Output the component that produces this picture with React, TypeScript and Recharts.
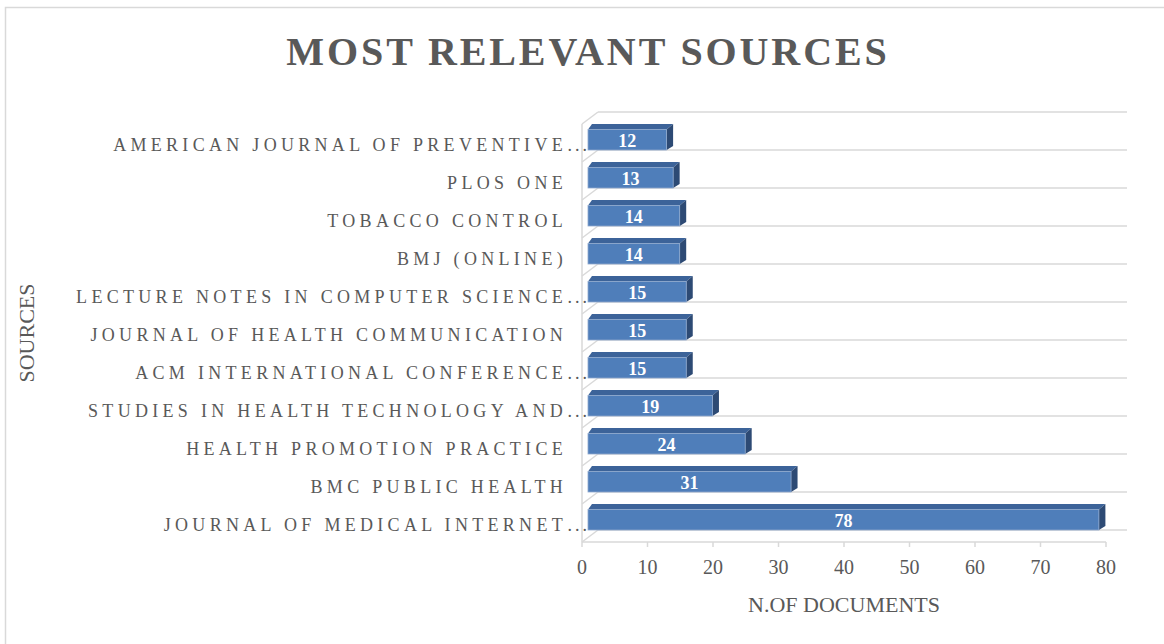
import React from 'react';
import { BarChart, Bar, XAxis, YAxis, LabelList } from 'recharts';

const categories = [
  'AMERICAN JOURNAL OF PREVENTIVE...',
  'PLOS ONE',
  'TOBACCO CONTROL',
  'BMJ (ONLINE)',
  'LECTURE NOTES IN COMPUTER SCIENCE...',
  'JOURNAL OF HEALTH COMMUNICATION',
  'ACM INTERNATIONAL CONFERENCE...',
  'STUDIES IN HEALTH TECHNOLOGY AND...',
  'HEALTH PROMOTION PRACTICE',
  'BMC PUBLIC HEALTH',
  'JOURNAL OF MEDICAL INTERNET...',
];
const documents = [12, 13, 14, 14, 15, 15, 15, 19, 24, 31, 78];
const xTicks = [0, 10, 20, 30, 40, 50, 60, 70, 80];
const title = 'MOST RELEVANT SOURCES';
const xTitle = 'N.OF DOCUMENTS';
const yTitle = 'SOURCES';

const data = categories.map((name, i) => ({ name, value: documents[i] }));

const FONT = '"Liberation Serif", "Times New Roman", serif';
const GRID = '#D9D9D9';
const TEXT = '#595959';
const FRONT = '#4F7EBA';
const TOPC = '#3C6399';
const SIDE = '#2D4A74';
const DEPTH_X = 16;
const DEPTH_Y = 12;

const Bar3D = (props: any) => {
  const { x, y, width } = props;
  const fl = x + 6;
  const fr = x + width + 6;
  const ft = y + 5.5;
  const fb = y + 26;
  return (
    <g>
      <polygon
        points={`${fl},${ft} ${fr},${ft} ${fr + 6.5},${ft - 5.5} ${fl + 4},${ft - 5.5}`}
        fill={TOPC}
      />
      <polygon
        points={`${fr},${ft} ${fr + 6.5},${ft - 5.5} ${fr + 6.5},${fb - 4} ${fr},${fb}`}
        fill={SIDE}
      />
      <rect x={fl} y={ft} width={fr - fl} height={fb - ft} fill={FRONT} stroke="#8EA8CE" strokeWidth={0.8} />
    </g>
  );
};

const Backdrop = (props: any) => {
  const { x, y, width, height, index } = props;
  const lines = [y];
  if (index === categories.length - 1) lines.push(y + height);
  return (
    <g>
      {lines.map((ly, i) => (
        <g key={i}>
          <line x1={x + DEPTH_X} y1={ly - DEPTH_Y} x2={x + width + 21} y2={ly - DEPTH_Y} stroke={GRID} strokeWidth={1.5} />
          <line x1={x} y1={ly} x2={x + DEPTH_X} y2={ly - DEPTH_Y} stroke={GRID} strokeWidth={1.5} />
        </g>
      ))}
    </g>
  );
};

const BarValueLabel = (props: any) => {
  const vb = props.viewBox && props.viewBox.width !== undefined ? props.viewBox : props;
  const { x, y, width } = vb;
  return (
    <text
      x={x + width / 2 + 6}
      y={y + 23}
      textAnchor="middle"
      fill="#FFFFFF"
      fontFamily={FONT}
      fontWeight="bold"
      fontSize={18}
    >
      {props.value}
    </text>
  );
};

const YTick = (props: any) => {
  const { y, payload } = props;
  const label: string = payload.value;
  const hasDots = label.endsWith('...');
  const main = hasDots ? label.slice(0, -3) : label;
  return (
    <g>
      <text x={567} y={y + 8} textAnchor="end" fill={TEXT} fontFamily={FONT} fontSize={18} letterSpacing={4.3}>
        {main}
      </text>
      {hasDots && (
        <text x={567.5} y={y + 8} textAnchor="start" fill={TEXT} fontFamily={FONT} fontSize={18} letterSpacing={3}>
          ...
        </text>
      )}
    </g>
  );
};

const XTick = (props: any) => {
  const { x, payload } = props;
  return (
    <text x={x} y={574} textAnchor="middle" fill={TEXT} fontFamily={FONT} fontSize={20}>
      {payload.value}
    </text>
  );
};

export default function App() {
  return (
    <div style={{ position: 'absolute', left: 0, top: 0, width: 1164, height: 644, overflow: 'hidden', background: '#fff' }}>
      <svg width={1164} height={644} style={{ position: 'absolute', left: 0, top: 0 }}>
        <rect x={5.5} y={7.5} width={1200} height={700} fill="#fff" stroke={GRID} strokeWidth={1.5} />
        <text x={588} y={65} textAnchor="middle" fill={TEXT} fontFamily={FONT} fontWeight="bold" fontSize={40} letterSpacing={2.9}>
          {title}
        </text>
      </svg>
      <div style={{ position: 'absolute', left: 0, top: 0 }}>
        <BarChart
          width={1164}
          height={644}
          data={data}
          layout="vertical"
          margin={{ top: 124, right: 58, bottom: 0, left: 0 }}
          barCategoryGap={0}
        >
          <XAxis
            type="number"
            domain={[0, 80]}
            ticks={xTicks}
            interval={0}
            height={102}
            axisLine={{ stroke: GRID, strokeWidth: 1.5 }}
            tickLine={{ stroke: GRID, strokeWidth: 1.5 }}
            tickSize={5}
            tick={<XTick />}
            label={{
              content: (p: any) => {
                const vb = p.viewBox;
                return (
                  <text x={vb.x + vb.width / 2} y={612} textAnchor="middle" fill={TEXT} fontFamily={FONT} fontSize={22}>
                    {xTitle}
                  </text>
                );
              },
            }}
          />
          <YAxis
            type="category"
            dataKey="name"
            width={582}
            interval={0}
            axisLine={{ stroke: GRID, strokeWidth: 1.5 }}
            tickLine={false}
            tick={<YTick />}
            label={{
              content: (p: any) => {
                const vb = p.viewBox;
                const cy = vb.y + vb.height / 2;
                return (
                  <text x={34} y={cy} transform={`rotate(-90 34 ${cy})`} textAnchor="middle" fill={TEXT} fontFamily={FONT} fontSize={22}>
                    {yTitle}
                  </text>
                );
              },
            }}
          />
          <Bar dataKey="value" shape={<Bar3D />} background={<Backdrop />} isAnimationActive={false}>
            <LabelList dataKey="value" content={<BarValueLabel />} />
          </Bar>
        </BarChart>
      </div>
    </div>
  );
}
